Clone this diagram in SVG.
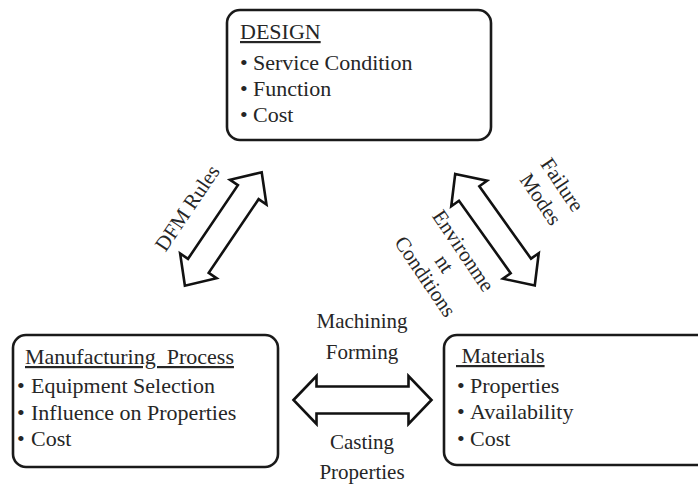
<svg xmlns="http://www.w3.org/2000/svg" width="698" height="488" viewBox="0 0 698 488">
<style>
.box{fill:#fff;stroke:#1a1a1a;stroke-width:2.6}
.arr{fill:#fff;stroke:#111;stroke-width:2.6;stroke-linejoin:miter}
text{font-family:"Liberation Serif","Times New Roman",serif;fill:#262626}
.t{font-size:22px}
.l{font-size:21px;text-anchor:middle}
.u{text-decoration:underline}
</style>
<rect width="698" height="488" fill="#fff"/>
<g id="connectors">
<polygon class="arr" transform="translate(362.5,400)" points="-69,0 -46,-24 -46,-13.5 46,-13.5 46,-24 69,0 46,24 46,13.5 -46,13.5 -46,24"/>
<polygon class="arr" transform="translate(223.3,229) rotate(-55.9)" points="-68.5,0 -44.5,-22 -44.5,-12.5 44.5,-12.5 44.5,-22 68.5,0 44.5,22 44.5,12.5 -44.5,12.5 -44.5,22"/>
<polygon class="arr" transform="translate(495,229.7) rotate(54.5)" points="-68.5,0 -44.5,-22 -44.5,-12.5 44.5,-12.5 44.5,-22 68.5,0 44.5,22 44.5,12.5 -44.5,12.5 -44.5,22"/>
<text class="l" transform="translate(193,212) rotate(-56)" x="0" y="0">DFM Rules</text>
<g transform="translate(551.5,191.9) rotate(56)">
<text class="l" x="0" y="-6">Failure</text>
<text class="l" x="0" y="20">Modes</text>
</g>
<g transform="translate(444.3,263.6) rotate(56)">
<text class="l" x="0" y="-16">Environme</text>
<text class="l" x="0" y="7">nt</text>
<text class="l" x="0" y="30">Conditions</text>
</g>
<text class="l" x="362" y="328">Machining</text>
<text class="l" x="362" y="359">Forming</text>
<text class="l" x="362" y="449">Casting</text>
<text class="l" x="362" y="479">Properties</text>
</g>
<g id="design">
<rect class="box" x="227" y="10" width="264" height="130" rx="13"/>
<text class="t u" x="240" y="39">DESIGN</text>
<text class="t" x="240" y="70">•<tspan x="253">Service Condition</tspan></text>
<text class="t" x="240" y="96">•<tspan x="253">Function</tspan></text>
<text class="t" x="240" y="122">•<tspan x="253">Cost</tspan></text>
</g>
<g id="manufacturing">
<rect class="box" x="13" y="335" width="265" height="132" rx="13"/>
<text class="t u" x="25" y="364" xml:space="preserve">Manufacturing  Process</text>
<text class="t" x="17" y="393">•<tspan x="31">Equipment Selection</tspan></text>
<text class="t" x="17" y="420">•<tspan x="31">Influence on Properties</tspan></text>
<text class="t" x="17" y="446">•<tspan x="31">Cost</tspan></text>
</g>
<g id="materials">
<rect class="box" x="444" y="335" width="270" height="130" rx="13"/>
<text class="t u" x="456" y="363">&#160;Materials</text>
<text class="t" x="457" y="393">•<tspan x="470">Properties</tspan></text>
<text class="t" x="457" y="419">•<tspan x="470">Availability</tspan></text>
<text class="t" x="457" y="446">•<tspan x="470">Cost</tspan></text>
</g>
</svg>
